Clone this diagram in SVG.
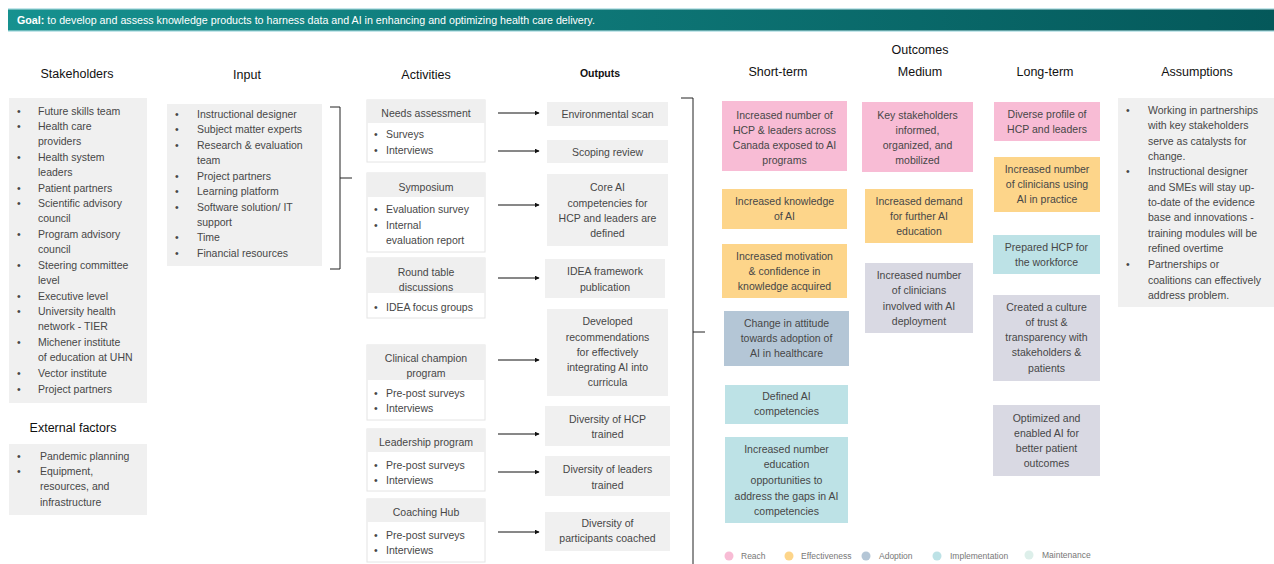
<svg xmlns="http://www.w3.org/2000/svg" width="1274" height="564" viewBox="0 0 1274 564">
<defs>
<linearGradient id="gb" x1="0" y1="0" x2="1" y2="0">
<stop offset="0" stop-color="#16918f"/>
<stop offset="1" stop-color="#04585a"/>
</linearGradient>
<marker id="ah" viewBox="0 0 8 8" refX="7" refY="4" markerWidth="5" markerHeight="5" orient="auto">
<path d="M0,0 L8,4 L0,8 z" fill="#111"/>
</marker>
<style>
text{font-family:"Liberation Sans",Arial,sans-serif;font-size:10.5px;fill:#474747}
.c{text-anchor:middle}
.h{font-size:12.5px;fill:#111}
.hs{font-size:10.5px;fill:#111}
.g{fill:#f0f0f0}
.ab{fill:#fff;stroke:#e4e4e4;stroke-width:1}
.ah{fill:#efefef}
.pk{fill:#f8bcd5}
.or{fill:#fdd58a}
.ad{fill:#b4c6d6}
.im{fill:#bde2e6}
.lv{fill:#d9d9e3}
.lg{font-size:8.5px;fill:#777}
.ln{fill:none;stroke:#222;stroke-width:1}
</style>
</defs>
<rect width="1274" height="564" fill="#fff"/>

<g id="goal">
<rect x="8" y="8" width="1266" height="24" fill="#c4e6ea"/>
<rect x="8" y="9.5" width="1266" height="21" fill="url(#gb)"/>
<text x="17" y="24" style="font-size:10.7px;fill:#fff"><tspan font-weight="bold">Goal:</tspan> to develop and assess knowledge products to harness data and AI in enhancing and optimizing health care delivery.</text>
</g>

<g id="headers">
<text class="h c" x="77" y="78">Stakeholders</text>
<text class="h c" x="247" y="79">Input</text>
<text class="h c" x="426" y="79">Activities</text>
<text class="hs c" x="600" y="77" font-weight="bold">Outputs</text>
<text class="h c" x="778" y="76">Short-term</text>
<text class="h c" x="920" y="54">Outcomes</text>
<text class="h c" x="920" y="76">Medium</text>
<text class="h c" x="1045" y="76">Long-term</text>
<text class="h c" x="1197" y="76">Assumptions</text>
<text class="h c" x="73" y="432">External factors</text>
</g>

<g id="stakeholders">
<rect class="g" x="9" y="98" width="138" height="305"/>
<text x="17" y="115">•</text><text x="38" y="115">Future skills team</text>
<text x="17" y="130">•</text><text x="38" y="130">Health care</text>
<text x="38" y="145">providers</text>
<text x="17" y="161">•</text><text x="38" y="161">Health system</text>
<text x="38" y="176">leaders</text>
<text x="17" y="192">•</text><text x="38" y="192">Patient partners</text>
<text x="17" y="207">•</text><text x="38" y="207">Scientific advisory</text>
<text x="38" y="222">council</text>
<text x="17" y="238">•</text><text x="38" y="238">Program advisory</text>
<text x="38" y="253">council</text>
<text x="17" y="269">•</text><text x="38" y="269">Steering committee</text>
<text x="38" y="284">level</text>
<text x="17" y="300">•</text><text x="38" y="300">Executive level</text>
<text x="17" y="315">•</text><text x="38" y="315">University health</text>
<text x="38" y="330">network - TIER</text>
<text x="17" y="346">•</text><text x="38" y="346">Michener institute</text>
<text x="38" y="361">of education at UHN</text>
<text x="17" y="377">•</text><text x="38" y="377">Vector institute</text>
<text x="17" y="393">•</text><text x="38" y="393">Project partners</text>
</g>

<g id="external-factors">
<rect class="g" x="9" y="444" width="138" height="71"/>
<text x="17" y="460">•</text><text x="40" y="460">Pandemic planning</text>
<text x="17" y="475">•</text><text x="40" y="475">Equipment,</text>
<text x="40" y="490">resources, and</text>
<text x="40" y="506">infrastructure</text>
</g>

<g id="input">
<rect class="g" x="167" y="104" width="155" height="162"/>
<text x="175" y="118">•</text><text x="197" y="118">Instructional designer</text>
<text x="175" y="133">•</text><text x="197" y="133">Subject matter experts</text>
<text x="175" y="149">•</text><text x="197" y="149">Research &amp; evaluation</text>
<text x="197" y="164">team</text>
<text x="175" y="180">•</text><text x="197" y="180">Project partners</text>
<text x="175" y="195">•</text><text x="197" y="195">Learning platform</text>
<text x="175" y="211">•</text><text x="197" y="211">Software solution/ IT</text>
<text x="197" y="226">support</text>
<text x="175" y="241">•</text><text x="197" y="241">Time</text>
<text x="175" y="257">•</text><text x="197" y="257">Financial resources</text>
</g>

<g id="act-needs">
<rect class="ab" x="367" y="100" width="118" height="62"/>
<rect class="ah" x="367" y="100" width="118" height="23"/>
<text class="c" x="426" y="117">Needs assessment</text>
<text x="374" y="138">•</text><text x="386" y="138">Surveys</text>
<text x="374" y="154">•</text><text x="386" y="154">Interviews</text>
</g>
<g id="act-symposium">
<rect class="ab" x="367" y="173" width="118" height="79"/>
<rect class="ah" x="367" y="173" width="118" height="24"/>
<text class="c" x="426" y="191">Symposium</text>
<text x="374" y="213">•</text><text x="386" y="213">Evaluation survey</text>
<text x="374" y="229">•</text><text x="386" y="229">Internal</text>
<text x="386" y="244">evaluation report</text>
</g>
<g id="act-roundtable">
<rect class="ab" x="367" y="258" width="118" height="60"/>
<rect class="ah" x="367" y="258" width="118" height="35"/>
<text class="c" x="426" y="276">Round table</text>
<text class="c" x="426" y="291">discussions</text>
<text x="374" y="311">•</text><text x="386" y="311">IDEA focus groups</text>
</g>
<g id="act-clinical">
<rect class="ab" x="367" y="345" width="118" height="75"/>
<rect class="ah" x="367" y="345" width="118" height="35"/>
<text class="c" x="426" y="362">Clinical champion</text>
<text class="c" x="426" y="377">program</text>
<text x="374" y="397">•</text><text x="386" y="397">Pre-post surveys</text>
<text x="374" y="412">•</text><text x="386" y="412">Interviews</text>
</g>
<g id="act-leadership">
<rect class="ab" x="367" y="429" width="118" height="62"/>
<rect class="ah" x="367" y="429" width="118" height="23"/>
<text class="c" x="426" y="446">Leadership program</text>
<text x="374" y="469">•</text><text x="386" y="469">Pre-post surveys</text>
<text x="374" y="484">•</text><text x="386" y="484">Interviews</text>
</g>
<g id="act-coaching">
<rect class="ab" x="367" y="499" width="118" height="63"/>
<rect class="ah" x="367" y="499" width="118" height="23"/>
<text class="c" x="426" y="516">Coaching Hub</text>
<text x="374" y="539">•</text><text x="386" y="539">Pre-post surveys</text>
<text x="374" y="554">•</text><text x="386" y="554">Interviews</text>
</g>

<g id="out-env"><rect class="g" x="547" y="102" width="121" height="24"/><text class="c" x="607.5" y="118">Environmental scan</text></g>
<g id="out-scoping"><rect class="g" x="547" y="140" width="121" height="23"/><text class="c" x="607.5" y="156">Scoping review</text></g>
<g id="out-core"><rect class="g" x="547" y="174" width="121" height="72"/>
<text class="c" x="607.5" y="191">Core  AI</text><text class="c" x="607.5" y="207">competencies for</text><text class="c" x="607.5" y="222">HCP and leaders are</text><text class="c" x="607.5" y="237">defined</text></g>
<g id="out-idea"><rect class="g" x="545" y="259" width="120" height="39"/>
<text class="c" x="605" y="275">IDEA framework</text><text class="c" x="605" y="291">publication</text></g>
<g id="out-recs"><rect class="g" x="547" y="309" width="121" height="87"/>
<text class="c" x="607.5" y="325">Developed</text><text class="c" x="607.5" y="341">recommendations</text><text class="c" x="607.5" y="356">for effectively</text><text class="c" x="607.5" y="371">integrating AI into</text><text class="c" x="607.5" y="386">curricula</text></g>
<g id="out-hcp"><rect class="g" x="545" y="406" width="125" height="40"/>
<text class="c" x="607.5" y="423">Diversity of HCP</text><text class="c" x="607.5" y="438">trained</text></g>
<g id="out-leaders"><rect class="g" x="545" y="456" width="125" height="40"/>
<text class="c" x="607.5" y="473">Diversity of leaders</text><text class="c" x="607.5" y="489">trained</text></g>
<g id="out-coached"><rect class="g" x="545" y="512" width="125" height="39"/>
<text class="c" x="607.5" y="527">Diversity of</text><text class="c" x="607.5" y="542">participants coached</text></g>

<g id="st-reach"><rect class="pk" x="722" y="101" width="125" height="70"/>
<text class="c" x="784.5" y="119">Increased number of</text><text class="c" x="784.5" y="134">HCP &amp; leaders across</text><text class="c" x="784.5" y="149">Canada exposed to AI</text><text class="c" x="784.5" y="164">programs</text></g>
<g id="st-knowledge"><rect class="or" x="722" y="189" width="125" height="40"/>
<text class="c" x="784.5" y="205">Increased knowledge</text><text class="c" x="784.5" y="220">of AI</text></g>
<g id="st-motivation"><rect class="or" x="722" y="244" width="125" height="54"/>
<text class="c" x="784.5" y="260">Increased motivation</text><text class="c" x="784.5" y="275">&amp; confidence in</text><text class="c" x="784.5" y="290">knowledge acquired</text></g>
<g id="st-attitude"><rect class="ad" x="724" y="311" width="125" height="55"/>
<text class="c" x="786.5" y="327">Change in attitude</text><text class="c" x="786.5" y="342">towards adoption of</text><text class="c" x="786.5" y="357">AI in healthcare</text></g>
<g id="st-defined"><rect class="im" x="725" y="385" width="123" height="39"/>
<text class="c" x="786.5" y="400">Defined AI</text><text class="c" x="786.5" y="415">competencies</text></g>
<g id="st-opportunities"><rect class="im" x="725" y="437" width="123" height="86"/>
<text class="c" x="786.5" y="453">Increased number</text><text class="c" x="786.5" y="468">education</text><text class="c" x="786.5" y="484">opportunities to</text><text class="c" x="786.5" y="500">address the gaps in AI</text><text class="c" x="786.5" y="515">competencies</text></g>

<g id="md-stakeholders"><rect class="pk" x="862" y="102" width="111" height="70"/>
<text class="c" x="917.5" y="119">Key stakeholders</text><text class="c" x="917.5" y="134">informed,</text><text class="c" x="917.5" y="149">organized, and</text><text class="c" x="917.5" y="164">mobilized</text></g>
<g id="md-demand"><rect class="or" x="865" y="189" width="108" height="54"/>
<text class="c" x="919" y="205">Increased demand</text><text class="c" x="919" y="220">for further AI</text><text class="c" x="919" y="235">education</text></g>
<g id="md-clinicians"><rect class="lv" x="865" y="263" width="108" height="70"/>
<text class="c" x="919" y="279">Increased number</text><text class="c" x="919" y="294">of clinicians</text><text class="c" x="919" y="310">involved with AI</text><text class="c" x="919" y="325">deployment</text></g>

<g id="lt-profile"><rect class="pk" x="994" y="102" width="106" height="39"/>
<text class="c" x="1047" y="118">Diverse profile of</text><text class="c" x="1047" y="133">HCP and leaders</text></g>
<g id="lt-using"><rect class="or" x="994" y="157" width="106" height="55"/>
<text class="c" x="1047" y="173">Increased number</text><text class="c" x="1047" y="188">of clinicians using</text><text class="c" x="1047" y="203">AI in practice</text></g>
<g id="lt-prepared"><rect class="im" x="993" y="235" width="107" height="39"/>
<text class="c" x="1046.5" y="251">Prepared HCP for</text><text class="c" x="1046.5" y="266">the workforce</text></g>
<g id="lt-culture"><rect class="lv" x="993" y="295" width="107" height="86"/>
<text class="c" x="1046.5" y="311">Created a culture</text><text class="c" x="1046.5" y="326">of trust &amp;</text><text class="c" x="1046.5" y="341">transparency with</text><text class="c" x="1046.5" y="356">stakeholders &amp;</text><text class="c" x="1046.5" y="372">patients</text></g>
<g id="lt-optimized"><rect class="lv" x="993" y="405" width="107" height="71"/>
<text class="c" x="1046.5" y="422">Optimized and</text><text class="c" x="1046.5" y="437">enabled AI for</text><text class="c" x="1046.5" y="452">better patient</text><text class="c" x="1046.5" y="467">outcomes</text></g>

<g id="assumptions">
<rect class="g" x="1118" y="98" width="156" height="209"/>
<text x="1126" y="114">•</text><text x="1148" y="114">Working in partnerships</text>
<text x="1148" y="129">with key stakeholders</text>
<text x="1148" y="145">serve as catalysts for</text>
<text x="1148" y="160">change.</text>
<text x="1126" y="175">•</text><text x="1148" y="175">Instructional designer</text>
<text x="1148" y="191">and SMEs will stay up-</text>
<text x="1148" y="206">to-date of the evidence</text>
<text x="1148" y="221">base and innovations -</text>
<text x="1148" y="237">training modules will be</text>
<text x="1148" y="252">refined overtime</text>
<text x="1126" y="268">•</text><text x="1148" y="268">Partnerships or</text>
<text x="1148" y="284">coalitions can effectively</text>
<text x="1148" y="299">address problem.</text>
</g>

<g id="legend">
<circle cx="729" cy="556" r="4.5" fill="#f8bcd5"/><text class="lg" x="741" y="559">Reach</text>
<circle cx="789" cy="556" r="4.5" fill="#fdd58a"/><text class="lg" x="801" y="559">Effectiveness</text>
<circle cx="866" cy="556" r="4.5" fill="#b4c6d6"/><text class="lg" x="879" y="559">Adoption</text>
<circle cx="937" cy="556" r="4.5" fill="#bde2e6"/><text class="lg" x="950" y="559">Implementation</text>
<circle cx="1029" cy="555" r="4.5" fill="#ddefea"/><text class="lg" x="1042" y="558">Maintenance</text>
</g>

<g id="connectors">
<path class="ln" d="M330,107 H340 V178 H352 M340,178 V269 H330"/>
<path class="ln" d="M681,98 H693 V332 H705 M693,332 V564"/>
<g stroke="#111" stroke-width="1" marker-end="url(#ah)">
<line x1="498" y1="113" x2="539" y2="113"/>
<line x1="498" y1="151" x2="539" y2="151"/>
<line x1="498" y1="205" x2="539" y2="205"/>
<line x1="498" y1="278" x2="539" y2="278"/>
<line x1="498" y1="360" x2="539" y2="360"/>
<line x1="498" y1="434" x2="539" y2="434"/>
<line x1="498" y1="472" x2="539" y2="472"/>
<line x1="498" y1="532" x2="539" y2="532"/>
</g>
</g>
</svg>
